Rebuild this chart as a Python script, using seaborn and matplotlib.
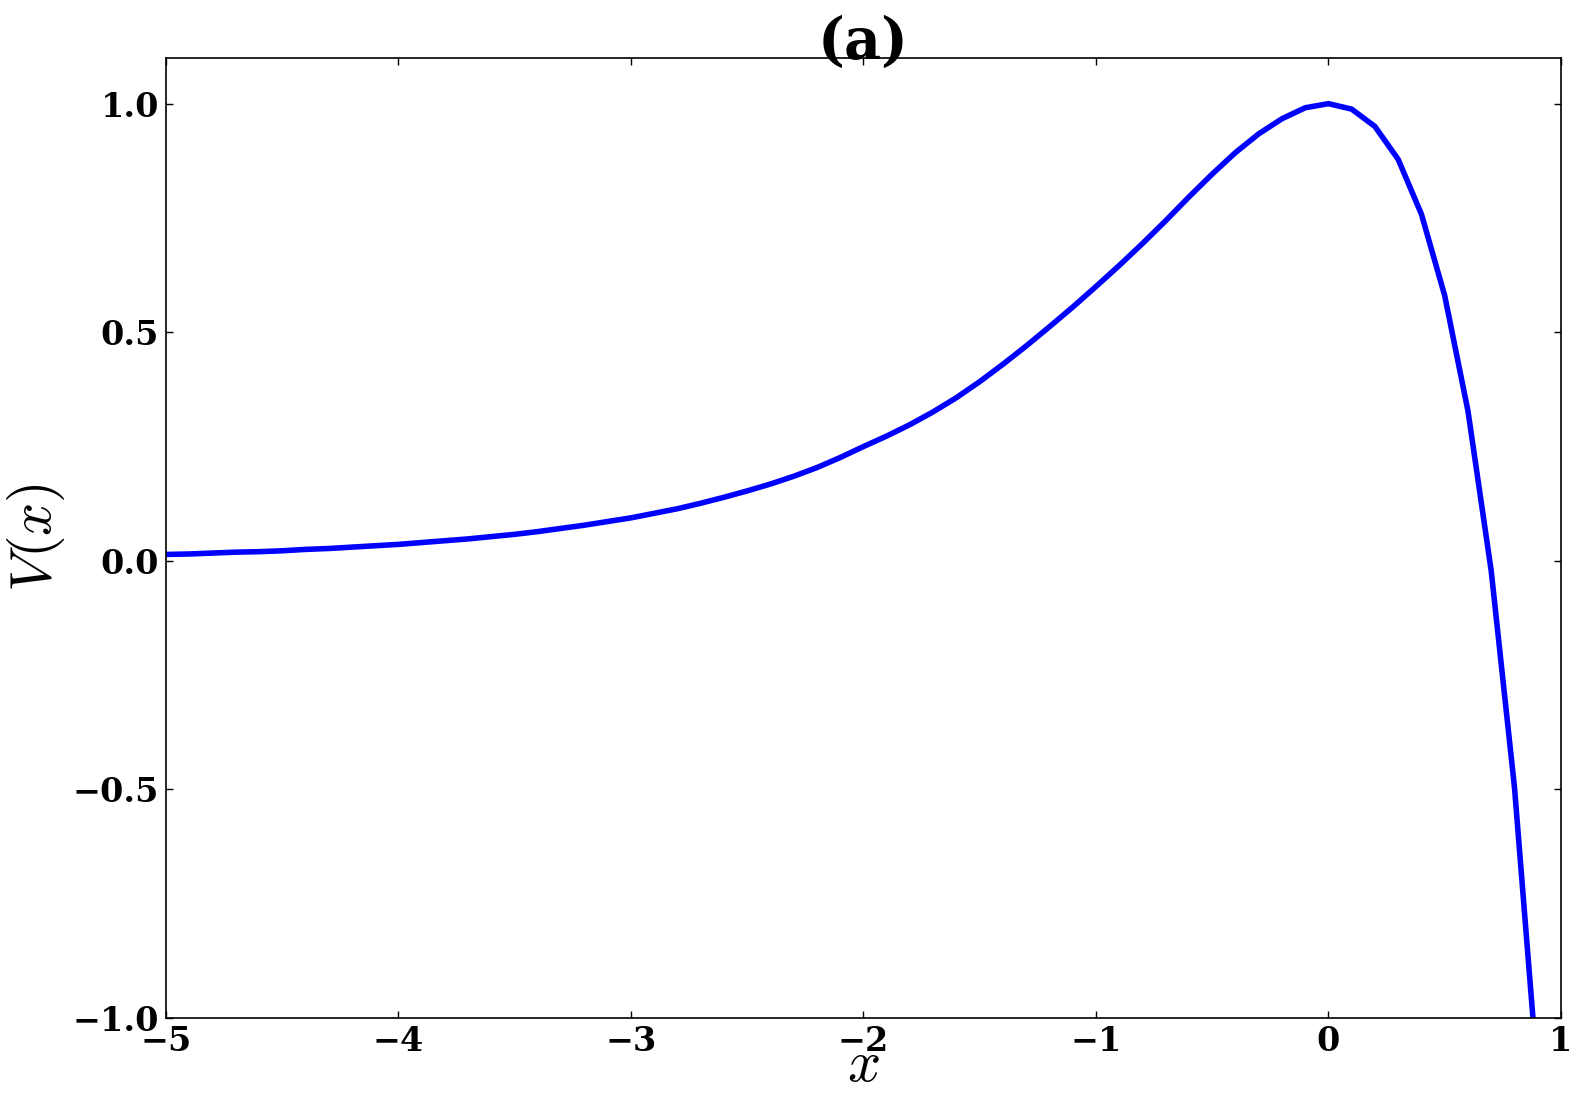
import numpy as np
import pandas as pd
import matplotlib
matplotlib.use("Agg")
import matplotlib.pyplot as plt
import seaborn as sns

# ---- data ----
x_vals = [-5.0, -4.9, -4.8, -4.7, -4.6, -4.5, -4.4, -4.3, -4.2, -4.1,
          -4.0, -3.9, -3.8, -3.7, -3.6, -3.5, -3.4, -3.3, -3.2, -3.1,
          -3.0, -2.9, -2.8, -2.7, -2.6, -2.5, -2.4, -2.3, -2.2, -2.1,
          -2.0, -1.9, -1.8, -1.7, -1.6, -1.5, -1.4, -1.3, -1.2, -1.1,
          -1.0, -0.9, -0.8, -0.7, -0.6, -0.5, -0.4, -0.3, -0.2, -0.1,
          0.0, 0.1, 0.2, 0.3, 0.4, 0.5, 0.6, 0.7, 0.8, 0.9]
v_vals = [0.014, 0.015, 0.017, 0.019, 0.020, 0.022, 0.025, 0.027, 0.030, 0.033,
          0.036, 0.040, 0.044, 0.048, 0.053, 0.058, 0.064, 0.071, 0.078, 0.086,
          0.094, 0.104, 0.114, 0.126, 0.139, 0.153, 0.168, 0.185, 0.204, 0.226,
          0.250, 0.273, 0.298, 0.326, 0.357, 0.392, 0.430, 0.470, 0.512, 0.555,
          0.600, 0.646, 0.694, 0.744, 0.796, 0.846, 0.893, 0.934, 0.967, 0.991,
          1.000, 0.988, 0.950, 0.878, 0.758, 0.580, 0.328, -0.022, -0.495, -1.13]
x_ticks = [-5, -4, -3, -2, -1, 0, 1]
y_ticks = [-1.0, -0.5, 0.0, 0.5, 1.0]
title_text = "(a)"
xlabel_text = r"$x$"
ylabel_text = r"$V(x)$"

df = pd.DataFrame({"x": x_vals, "V": v_vals})

sns.set_style("ticks")
plt.rcParams["font.family"] = ["DejaVu Serif"]
plt.rcParams["font.weight"] = "bold"
plt.rcParams["mathtext.fontset"] = "cm"
plt.rcParams["text.color"] = "black"
plt.rcParams["axes.labelcolor"] = "black"
plt.rcParams["xtick.color"] = "black"
plt.rcParams["ytick.color"] = "black"
plt.rcParams["xtick.direction"] = "in"
plt.rcParams["ytick.direction"] = "in"

fig = plt.figure(figsize=(15.78, 10.93), dpi=100)
ax = fig.add_axes([0.1052, 0.0686, 0.9892 - 0.1052, 0.947 - 0.0686])

sns.lineplot(data=df, x="x", y="V", ax=ax, color="#0000ff", linewidth=4.0,
             sort=False, estimator=None)

ax.set_xlim(-5, 1)
ax.set_ylim(-1.0, 1.1)
ax.set_xticks(x_ticks)
ax.set_yticks(y_ticks)
ax.set_xticklabels([f"{t:d}".replace("-", "\u2212") for t in x_ticks])
ax.set_yticklabels([f"{t:.1f}".replace("-", "\u2212") for t in y_ticks])
ax.tick_params(axis="both", which="major", direction="in", length=5, width=1,
               colors="black", labelsize=24, pad=5,
               top=True, right=True)
for lbl in ax.get_xticklabels() + ax.get_yticklabels():
    lbl.set_fontweight("bold")
    lbl.set_color("black")
for sp in ax.spines.values():
    sp.set_visible(True)
    sp.set_linewidth(1.2)
    sp.set_color("black")

ax.set_xlabel(xlabel_text, fontsize=42, labelpad=-15, color="black")
ax.set_ylabel(ylabel_text, fontsize=42, labelpad=4, color="black")
ax.set_title(title_text, fontsize=41, fontweight="bold", pad=-1, color="black")

fig.savefig("out.png", dpi=100)
